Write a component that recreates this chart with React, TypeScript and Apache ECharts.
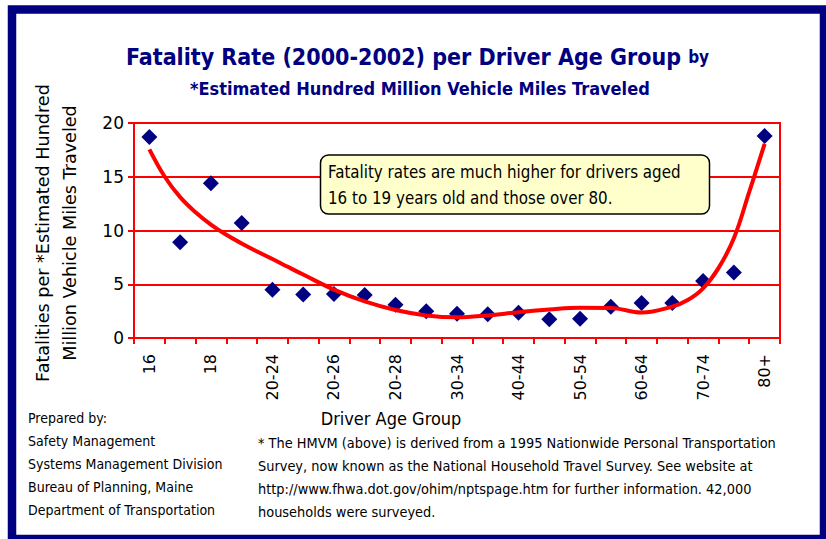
import React, { useEffect, useRef } from "react";
import * as echarts from "echarts";

const categories = [
  "16", "17", "18", "19", "20-24", "20-25", "20-26", "20-27", "20-28", "25-29",
  "30-34", "35-39", "40-44", "45-49", "50-54", "55-59", "60-64", "65-69", "70-74", "75-79", "80+",
];
const fatalityRates = [
  18.7, 8.9, 14.4, 10.7, 4.5, 4.05, 4.1, 4.0, 3.1, 2.5,
  2.25, 2.2, 2.35, 1.75, 1.8, 2.9, 3.25, 3.25, 5.3, 6.1, 18.8,
];
// trendline, at category positions (index units)
const trendPositions = [
  0, 0.5, 1, 1.5, 2, 2.5, 3, 3.5, 4, 4.5, 5, 6, 7, 8, 9,
  10, 11, 12, 13, 14, 15, 16, 17, 17.5, 18, 18.5, 19, 19.5, 20,
];
const trendValues = [
  17.55, 15.0, 13.1, 11.7, 10.55, 9.6, 8.8, 8.05, 7.35, 6.62, 5.9, 4.5, 3.4, 2.6, 2.1,
  1.92, 2.1, 2.4, 2.65, 2.82, 2.8, 2.37, 2.92, 3.53, 4.62, 6.5, 9.27, 13.6, 18.05,
];
const yTicks = { min: 0, max: 20, interval: 5 };

const titleLine1 = "Fatality Rate (2000-2002) per Driver Age Group";
const titleBy = "by";
const titleLine2 = "*Estimated Hundred Million Vehicle Miles Traveled";
const yNameLines = ["Fatalities per *Estimated Hundred", "Million Vehicle Miles Traveled"];
const xName = "Driver Age Group";
const noteLines = [
  "Fatality rates are much higher for drivers aged",
  "16 to 19 years old and those over 80.",
];
const preparedLines = [
  "Prepared by:",
  "Safety Management",
  "Systems Management Division",
  "Bureau of Planning, Maine",
  "Department of Transportation",
];
const footnoteLines = [
  "* The HMVM (above) is derived from a 1995 Nationwide Personal Transportation",
  "Survey, now known as the National Household Travel Survey. See website at",
  "http://www.fhwa.dot.gov/ohim/nptspage.htm for further information. 42,000",
  "households were surveyed.",
];

const NAVY = "#000080";
const RED = "#ff0000";
const COND = "'DejaVu Sans Condensed', 'DejaVu Sans', sans-serif";
const SANS = "'DejaVu Sans', Verdana, sans-serif";

export default function App() {
  const ref = useRef<HTMLDivElement>(null);
  useEffect(() => {
    if (!ref.current) return;
    const chart = echarts.init(ref.current, null, { renderer: "svg" });
    const graphics: any[] = [
      {
        type: "rect",
        shape: { x: 12, y: 9.5, width: 812, height: 529.5 },
        style: { fill: "none", stroke: NAVY, lineWidth: 8.5 },
        silent: true,
        z: 100,
      },
      {
        type: "rect",
        shape: { x: 320.5, y: 155, width: 389, height: 59, r: 8 },
        style: { fill: "#ffffcc", stroke: "#000000", lineWidth: 1.5 },
        z: 50,
      },
      {
        type: "text",
        x: 328,
        y: 159,
        z: 51,
        style: {
          text: noteLines.join("\n"),
          font: `16.8px ${COND}`,
          fill: "#000000",
          lineHeight: 26,
          textAlign: "left",
          textVerticalAlign: "top",
        },
      },
      {
        type: "text",
        x: 391,
        y: 418,
        style: {
          text: xName,
          font: `18px ${COND}`,
          fill: "#000000",
          textAlign: "center",
          textVerticalAlign: "middle",
        },
      },
    ];
    yNameLines.forEach((t, i) => {
      graphics.push({
        type: "text",
        x: 43 + i * 27,
        y: 233,
        rotation: Math.PI / 2,
        style: {
          text: t,
          font: `17.6px ${SANS}`,
          fill: "#000000",
          textAlign: "center",
          textVerticalAlign: "middle",
        },
      });
    });
    preparedLines.forEach((t, i) => {
      graphics.push({
        type: "text",
        x: 28,
        y: 418 + i * 23,
        style: {
          text: t,
          font: `14px ${COND}`,
          fill: "#000000",
          textAlign: "left",
          textVerticalAlign: "middle",
        },
      });
    });
    footnoteLines.forEach((t, i) => {
      graphics.push({
        type: "text",
        x: 258,
        y: 443 + i * 23,
        style: {
          text: t,
          font: `14.4px ${COND}`,
          fill: "#000000",
          textAlign: "left",
          textVerticalAlign: "middle",
        },
      });
    });

    chart.setOption({
      animation: false,
      backgroundColor: "#ffffff",
      title: [
        {
          text: `${titleLine1} {b|${titleBy}}`,
          left: 126,
          top: 43,
          padding: 0,
          textStyle: {
            fontFamily: COND,
            fontSize: 23,
            fontWeight: "bold",
            color: NAVY,
            lineHeight: 28,
            rich: {
              b: { fontFamily: COND, fontSize: 17, fontWeight: "bold", color: NAVY, lineHeight: 28 },
            },
          },
        },
        {
          text: titleLine2,
          left: 190,
          top: 77,
          padding: 0,
          textStyle: {
            fontFamily: COND,
            fontSize: 18,
            fontWeight: "bold",
            color: NAVY,
            lineHeight: 22,
          },
        },
      ],
      grid: {
        left: 134,
        right: 46,
        top: 123,
        bottom: 201,
        show: true,
        borderColor: RED,
        borderWidth: 2,
        backgroundColor: "transparent",
      },
      xAxis: [
        {
          type: "category",
          data: categories,
          boundaryGap: true,
          axisLine: { onZero: false, lineStyle: { color: RED, width: 2 } },
          axisTick: { show: true, length: 6, interval: 0, lineStyle: { color: RED, width: 2 } },
          axisLabel: {
            rotate: 90,
            interval: 1,
            margin: 16,
            fontSize: 16,
            fontFamily: SANS,
            color: "#000000",
          },
          splitLine: { show: false },
        },
        {
          type: "value",
          min: -0.5,
          max: categories.length - 0.5,
          show: false,
          position: "bottom",
          axisLine: { show: false, onZero: false },
          splitLine: { show: false },
        },
      ],
      yAxis: {
        type: "value",
        min: yTicks.min,
        max: yTicks.max,
        interval: yTicks.interval,
        axisLine: { show: true, onZero: false, lineStyle: { color: RED, width: 2 } },
        axisTick: { show: true, length: 6, lineStyle: { color: RED, width: 2 } },
        axisLabel: { fontSize: 17, fontFamily: SANS, color: "#000000", margin: 10 },
        splitLine: { show: true, lineStyle: { color: RED, width: 2 } },
      },
      series: [
        {
          type: "scatter",
          name: "Fatality rate",
          data: fatalityRates,
          symbol: "diamond",
          symbolSize: 16,
          itemStyle: { color: NAVY, opacity: 1 },
          z: 3,
        },
        {
          type: "line",
          name: "Trend",
          xAxisIndex: 1,
          data: trendPositions.map((p, i) => [p, trendValues[i]]),
          smooth: 0.4,
          showSymbol: false,
          symbol: "none",
          lineStyle: { color: RED, width: 4 },
          z: 4,
        },
      ],
      graphic: graphics,
    });
    return () => chart.dispose();
  }, []);
  return (
    <div
      ref={ref}
      style={{ position: "absolute", left: 0, top: 0, width: 826, height: 539 }}
    />
  );
}
